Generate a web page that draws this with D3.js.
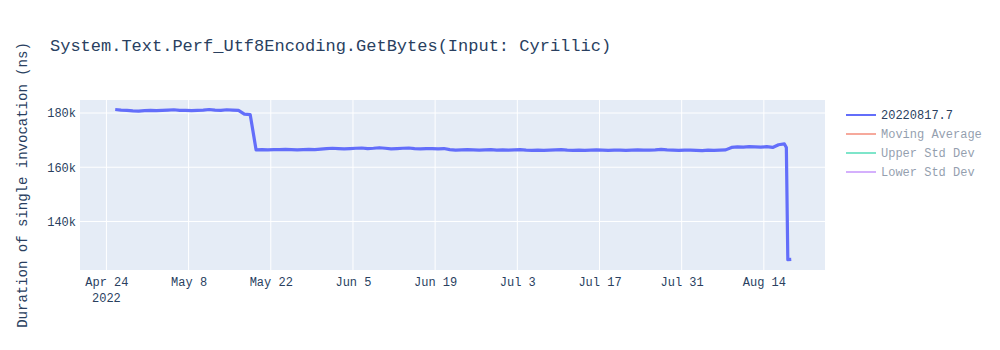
<!DOCTYPE html>
<html>
<head>
<meta charset="utf-8">
<script src="https://cdn.jsdelivr.net/npm/d3@7"></script>
<style>
  body { margin: 0; background: #fff; }
  svg text { font-family: "Courier New", "Liberation Mono", monospace; }
</style>
</head>
<body>
<svg id="chart"></svg>
<script>
// chart data (values in thousands of ns)
const chartTitle = "System.Text.Perf_Utf8Encoding.GetBytes(Input: Cyrillic)"
const yTitle = "Duration of single invocation (ns)"
const firstDay = "2022-04-25T12:00:00Z"
// one value per day, Apr 25 .. Aug 17
const dailyValues = [
  181.3, 181.1, 181.0, 180.8, 180.7, 180.9,
  181.0, 180.9, 181.0, 181.1, 181.2, 181.0, 181.0, 180.9, 181.0, 181.1, 181.3, 181.1, 181.0, 181.2, 181.1, 181.0,
  179.6, 179.4,
  166.4, 166.5, 166.4, 166.5, 166.5, 166.6, 166.5, 166.4, 166.5, 166.6, 166.5, 166.7, 166.9,
  167.0, 166.9, 166.8, 166.9, 167.0, 167.1, 166.9, 167.0, 167.2, 167.0, 166.8, 166.9, 167.0, 167.1, 166.9,
  166.8, 166.9, 166.9, 166.8, 166.9, 166.5, 166.3, 166.4, 166.5, 166.4, 166.3, 166.4, 166.5, 166.3, 166.4,
  166.3, 166.4, 166.5, 166.3, 166.2, 166.3, 166.2, 166.3, 166.4, 166.5, 166.3, 166.2, 166.3, 166.2, 166.3, 166.4,
  166.3, 166.2, 166.3, 166.3, 166.2, 166.3, 166.4, 166.3, 166.3, 166.4, 166.6, 166.4, 166.3, 166.2, 166.3,
  166.3, 166.2, 166.1, 166.3, 166.2, 166.3, 166.4, 167.3, 167.5, 167.4, 167.6, 167.5, 167.4, 167.6, 167.3, 168.3, 168.6
]
// last runs (several on the same day)
const tailTimes = ["2022-08-17T20:00:00Z", "2022-08-18T02:00:00Z", "2022-08-18T16:00:00Z"]
const tailValues = [167.3, 125.9, 126.0]

const xTicks = ["2022-04-24", "2022-05-08", "2022-05-22", "2022-06-05", "2022-06-19", "2022-07-03", "2022-07-17", "2022-07-31", "2022-08-14"]
const yTicks = [140, 160, 180]
const legendNames = ["20220817.7", "Moving Average", "Upper Std Dev", "Lower Std Dev"]
const legendColors = ["#636efa", "#EF553B", "#00cc96", "#ab63fa"]

var W = 1000, H = 350
var margin = {top: 100, right: 175, bottom: 80, left: 80},
    width = W - margin.left - margin.right,
    height = H - margin.top - margin.bottom;

var textColor = "#2a3f5f"

var svg = d3.select("svg#chart")
    .attr("width", W)
    .attr("height", H)

var parse = d3.utcParse("%Y-%m-%dT%H:%M:%SZ")
var start = parse(firstDay)
var points = dailyValues.map(function(v, i){ return {t: d3.utcDay.offset(start, i), v: v} })
tailTimes.forEach(function(t, i){ points.push({t: parse(t), v: tailValues[i]}) })

var x = d3.scaleUtc()
    .domain([parse("2022-04-19T12:00:00Z"), parse("2022-08-24T10:00:00Z")])
    .range([0, width])

var y = d3.scaleLinear()
    .domain([122.1, 184.8])
    .range([height, 0])

var g = svg.append("g")
    .attr("transform", "translate(" + margin.left + "," + margin.top + ")")

g.append("rect")
    .attr("width", width)
    .attr("height", height)
    .attr("fill", "#e5ecf6")

var tickDates = xTicks.map(function(s){ return d3.utcParse("%Y-%m-%d")(s) })

// grid
g.selectAll("line.vgrid")
    .data(tickDates)
    .enter().append("line")
    .attr("class", "vgrid")
    .attr("x1", function(d){ return x(d) })
    .attr("x2", function(d){ return x(d) })
    .attr("y1", 0).attr("y2", height)
    .attr("stroke", "#fff").attr("stroke-width", 1)

g.selectAll("line.hgrid")
    .data(yTicks)
    .enter().append("line")
    .attr("class", "hgrid")
    .attr("y1", function(d){ return y(d) })
    .attr("y2", function(d){ return y(d) })
    .attr("x1", 0).attr("x2", width)
    .attr("stroke", "#fff").attr("stroke-width", 1)

// x axis
var xAxis = g.append("g")
    .attr("transform", "translate(0," + height + ")")
    .call(d3.axisBottom(x)
        .tickValues(tickDates)
        .tickSize(0)
        .tickPadding(7)
        .tickFormat(function(d){ return d3.utcFormat("%b ")(d) + d.getUTCDate() }))
xAxis.select(".domain").remove()
xAxis.selectAll("text")
    .attr("fill", textColor)
    .style("font-size", "12px")
xAxis.append("text")
    .attr("x", x(tickDates[0]))
    .attr("y", 32)
    .attr("text-anchor", "middle")
    .attr("fill", textColor)
    .style("font-size", "12px")
    .text("2022")

// y axis
var yAxis = g.append("g")
    .call(d3.axisLeft(y)
        .tickValues(yTicks)
        .tickSize(0)
        .tickPadding(4)
        .tickFormat(function(d){ return d + "k" }))
yAxis.select(".domain").remove()
yAxis.selectAll("text")
    .attr("fill", textColor)
    .style("font-size", "12px")

// data line
var line = d3.line()
    .x(function(d){ return x(d.t) })
    .y(function(d){ return y(d.v) })

g.append("path")
    .datum(points)
    .attr("d", line)
    .attr("fill", "none")
    .attr("stroke", legendColors[0])
    .attr("stroke-width", 3.2)
    .attr("stroke-linejoin", "round")

// title
svg.append("text")
    .attr("x", 50)
    .attr("y", 51)
    .attr("fill", textColor)
    .style("font-size", "17px")
    .text(chartTitle)

svg.append("text")
    .attr("transform", "translate(27," + (margin.top + height / 2) + ") rotate(-90)")
    .attr("text-anchor", "middle")
    .attr("fill", textColor)
    .style("font-size", "14px")
    .text(yTitle)

// legend
var legend = svg.append("g")
    .attr("transform", "translate(846,115)")

var items = legend.selectAll("g")
    .data(legendNames)
    .enter().append("g")
    .attr("transform", function(d, i){ return "translate(0," + (i * 19) + ")" })
    .style("opacity", function(d, i){ return i == 0 ? 1 : 0.5 })

items.append("line")
    .attr("x1", 0).attr("x2", 30)
    .attr("stroke", function(d, i){ return legendColors[i] })
    .attr("stroke-width", 2)

items.append("text")
    .attr("x", 35)
    .attr("y", 4)
    .attr("fill", textColor)
    .style("font-size", "12px")
    .text(function(d){ return d })
</script>
</body>
</html>
